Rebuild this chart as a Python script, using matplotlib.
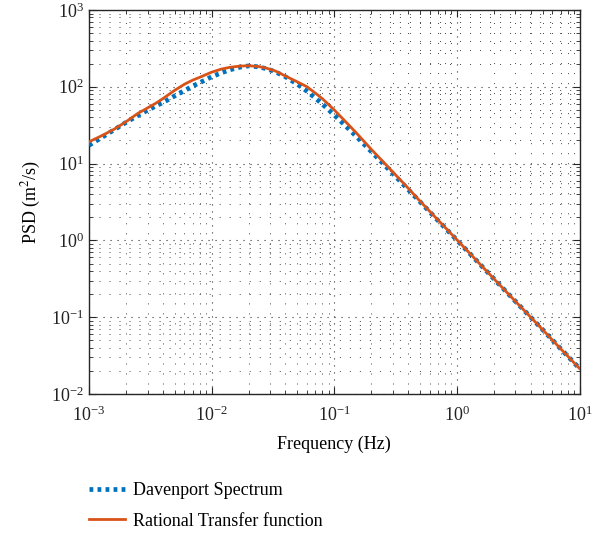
import matplotlib
matplotlib.use("Agg")
import matplotlib.pyplot as plt
from matplotlib.ticker import LogLocator, NullFormatter

plt.rcParams['font.family'] = ['Liberation Serif', 'DejaVu Serif']
plt.rcParams['mathtext.fontset'] = 'stix'

freq = [0.001, 0.0013, 0.0016, 0.002, 0.0025, 0.003, 0.0035, 0.004, 0.0045, 0.005,
        0.006, 0.007, 0.008, 0.01, 0.012, 0.014, 0.017, 0.02, 0.024, 0.028,
        0.033, 0.04, 0.05, 0.06, 0.07, 0.08, 0.1, 0.12, 0.15, 0.2,
        0.25, 0.3, 0.4, 0.5, 0.7, 1, 1.5, 2, 3, 5, 7, 10]
davenport = [17.3, 22.4, 27.5, 34.3, 42.2, 49.5, 56, 62.5, 69, 76,
             89, 102, 113, 135, 152, 166, 180, 187, 182, 172,
             157, 135, 108, 87.4, 71.5, 59.5, 42.9, 32.5, 22.9, 14.4,
             10.0, 7.42, 4.61, 3.19, 1.82, 1.01, 0.513, 0.317, 0.161, 0.069, 0.039, 0.0215]
rational = [19.2, 23.5, 28, 35, 45, 53, 61, 70, 80, 90,
            108, 122, 133, 155, 170, 179, 186, 188, 184, 175,
            161, 138, 116, 100, 83, 70, 50, 37, 25.5, 15.4,
            10.6, 7.8, 4.8, 3.25, 1.85, 1.02, 0.515, 0.318, 0.161, 0.069, 0.039, 0.0215]
labels = ["Davenport Spectrum", "Rational Transfer function"]

fig = plt.figure(figsize=(6.02, 5.37), dpi=100)
ax = fig.add_axes([89/602, 1-394/537, (579.5-89)/602, 384/537])

l1, = ax.plot(freq, davenport, color='#0072BD', lw=3.4, linestyle=(0, (0.8, 0.9)),
              label=labels[0], zorder=3)
l2, = ax.plot(freq, rational, color='#D95319', lw=2.0, linestyle='-',
              label=labels[1], zorder=4)

ax.set_xscale('log')
ax.set_yscale('log')
ax.set_xlim(1e-3, 10)
ax.set_ylim(1e-2, 1e3)
ax.xaxis.set_major_locator(LogLocator(base=10, numticks=10))
ax.yaxis.set_major_locator(LogLocator(base=10, numticks=10))
ax.xaxis.set_minor_locator(LogLocator(base=10, subs=range(2, 10), numticks=20))
ax.yaxis.set_minor_locator(LogLocator(base=10, subs=range(2, 10), numticks=20))
ax.xaxis.set_minor_formatter(NullFormatter())
ax.yaxis.set_minor_formatter(NullFormatter())

ax.grid(True, which='major', color='#333333', lw=0.8, linestyle=(0, (1, 5.3)))
ax.grid(True, which='minor', color='#444444', lw=0.7, linestyle=(0, (1, 9.3)))
ax.set_axisbelow(True)

ax.tick_params(which='both', direction='in', top=True, right=True, labelsize=13,
               colors='#262626', labelcolor='#222222')
ax.tick_params(which='major', length=5, width=0.8)
ax.tick_params(which='minor', length=3, width=0.6)
ax.tick_params(axis='x', pad=8)
for s in ax.spines.values():
    s.set_color('#262626')
    s.set_linewidth(1.0)

ax.set_xlabel("Frequency (Hz)", fontsize=13, labelpad=8)
ax.set_ylabel("PSD (m$^2$/s)", fontsize=13, labelpad=6)

fig.legend(handles=[l1, l2], labels=labels, loc='upper left',
           bbox_to_anchor=(82/602, 1-475/537), frameon=False, fontsize=13,
           handlelength=2.0, handletextpad=0.4, labelspacing=0.75, borderaxespad=0)

fig.savefig("out.png", dpi=100)
